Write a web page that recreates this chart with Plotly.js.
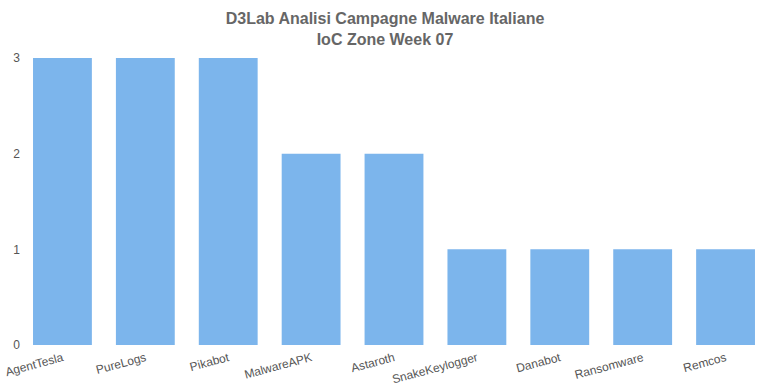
<!DOCTYPE html>
<html><head><meta charset="utf-8">
<script src="https://cdn.plot.ly/plotly-3.0.1.min.js"></script>
<style>html,body{margin:0;padding:0;background:#fff}#chart{width:770px;height:385px}</style>
</head><body><div id="chart"></div>
<script>
const categories = ["AgentTesla","PureLogs","Pikabot","MalwareAPK","Astaroth","SnakeKeylogger","Danabot","Ransomware","Remcos"];
const values = [3,3,3,2,2,1,1,1,1];
const yTicks = [0,1,2,3];

Plotly.newPlot('chart', [{
  type: 'bar', x: categories, y: values,
  marker: {color: '#7cb5ec'}, hoverinfo: 'x+y'
}], {
  width: 770, height: 385,
  margin: {l: 21, r: 3, t: 58, b: 40},
  paper_bgcolor: '#fff', plot_bgcolor: '#fff',
  bargap: 0.29,
  font: {family: 'Liberation Sans, Arial, sans-serif', color: '#555', size: 12},
  title: {text: '<b>D3Lab Analisi Campagne Malware Italiane<br>IoC Zone Week 07</b>',
    font: {size: 16, color: '#666'}, x: 0.5, xanchor: 'center', y: 0.938, yanchor: 'top'},
  xaxis: {tickangle: -15, showgrid: false, zeroline: false, showline: false, ticks: '', automargin: false,
    ticklabelstandoff: 3, tickfont: {size: 12, color: '#555'}},
  yaxis: {range: [0, 3], tickvals: yTicks, showgrid: false, zeroline: false, showline: false, ticks: '',
    automargin: false, tickfont: {size: 12, color: '#555'}}
}, {displayModeBar: false});
</script></body></html>
